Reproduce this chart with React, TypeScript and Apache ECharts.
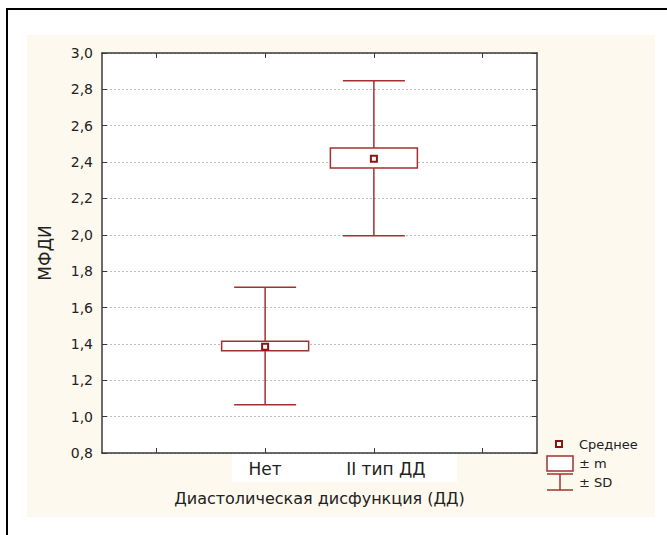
import React, { useEffect, useRef } from "react";
import * as echarts from "echarts";

const categories = ["Нет", "II тип ДД"];
const means = [1.385, 2.418];
const seLower = [1.362, 2.368];
const seUpper = [1.415, 2.478];
const sdLower = [1.065, 1.995];
const sdUpper = [1.712, 2.848];
const yTicks = ["0,8", "1,0", "1,2", "1,4", "1,6", "1,8", "2,0", "2,2", "2,4", "2,6", "2,8", "3,0"];

const FONT = "'DejaVu Sans', Verdana, sans-serif";
const RED = "#a3302f";
const DARKRED = "#8b1414";

export default function App() {
  const ref = useRef<HTMLDivElement>(null);
  useEffect(() => {
    if (!ref.current) return;
    const chart = echarts.init(ref.current, undefined, { renderer: "svg" });
    const axisCats: any[] = [
      "",
      { value: categories[0], textStyle: { padding: [0, 0, 0, 0] } },
      { value: categories[1], textStyle: { padding: [0, 0, 0, 24] } },
      "",
    ];
    const data = categories.map((c, i) => [i + 1, means[i], seLower[i], seUpper[i], sdLower[i], sdUpper[i]]);
    const axisLine = { show: true, lineStyle: { color: "#3a3a3a", width: 1.5 } };
    const tick = { show: true, inside: true, length: 5, lineStyle: { color: "#3a3a3a", width: 1 } };
    const option: any = {
      animation: false,
      textStyle: { fontFamily: FONT },
      grid: { left: 102, top: 53, right: 130, bottom: 82, show: true, backgroundColor: "#ffffff", borderWidth: 0 },
      xAxis: [
        {
          type: "category",
          data: axisCats,
          position: "bottom",
          boundaryGap: true,
          axisLine,
          axisTick: { ...tick, alignWithLabel: true, interval: 0 },
          axisLabel: { show: true, interval: 0, color: "#222", fontSize: 17, fontFamily: FONT, margin: 7 },
          splitLine: { show: false },
          name: "Диастолическая дисфункция (ДД)",
          nameLocation: "middle",
          nameGap: 37,
          nameTextStyle: { color: "#222", fontSize: 16, fontFamily: FONT },
        },
        {
          type: "category",
          data: axisCats,
          position: "top",
          boundaryGap: true,
          axisLine,
          axisTick: { ...tick, alignWithLabel: true, interval: 0 },
          axisLabel: { show: false },
          splitLine: { show: false },
        },
      ],
      yAxis: [
        {
          type: "value",
          min: 0.8,
          max: 3.0,
          interval: 0.2,
          position: "left",
          axisLine,
          axisTick: tick,
          axisLabel: {
            color: "#222",
            fontSize: 14,
            fontFamily: FONT,
            margin: 9,
            formatter: (v: number) => yTicks[Math.round((v - 0.8) / 0.2)] ?? "",
          },
          splitLine: { show: true, lineStyle: { color: "#bcbcbc", type: [2, 2], width: 1 } },
          name: "МФДИ",
          nameLocation: "middle",
          nameGap: 49,
          nameRotate: 90,
          nameTextStyle: { color: "#222", fontSize: 17, fontFamily: FONT },
        },
        {
          type: "value",
          min: 0.8,
          max: 3.0,
          interval: 0.2,
          position: "right",
          axisLine,
          axisTick: tick,
          axisLabel: { show: false },
          splitLine: { show: false },
        },
      ],
      series: [
        {
          type: "custom",
          xAxisIndex: 0,
          yAxisIndex: 0,
          data,
          encode: { x: 0, y: [1, 2, 3, 4, 5] },
          renderItem: (params: any, api: any) => {
            const xi = api.value(0);
            const m = api.value(1);
            const sl = api.value(2);
            const sh = api.value(3);
            const dl = api.value(4);
            const dh = api.value(5);
            const band = api.size([1, 0])[0];
            const xc = api.coord([xi, m])[0];
            const ym = api.coord([xi, m])[1];
            const ysl = api.coord([xi, sl])[1];
            const ysh = api.coord([xi, sh])[1];
            const ydl = api.coord([xi, dl])[1];
            const ydh = api.coord([xi, dh])[1];
            const bw = band * 0.8;
            const cw = band * 0.57;
            const ls = { stroke: RED, lineWidth: 1.5, fill: null };
            return {
              type: "group",
              children: [
                { type: "line", shape: { x1: xc, y1: ydh, x2: xc, y2: ysh }, style: ls },
                { type: "line", shape: { x1: xc, y1: ysl, x2: xc, y2: ydl }, style: ls },
                { type: "line", shape: { x1: xc - cw / 2, y1: ydh, x2: xc + cw / 2, y2: ydh }, style: ls },
                { type: "line", shape: { x1: xc - cw / 2, y1: ydl, x2: xc + cw / 2, y2: ydl }, style: ls },
                {
                  type: "rect",
                  shape: { x: xc - bw / 2, y: ysh, width: bw, height: ysl - ysh },
                  style: { stroke: RED, lineWidth: 1.5, fill: "#ffffff" },
                },
                {
                  type: "rect",
                  shape: { x: xc - 3, y: ym - 3, width: 6, height: 6 },
                  style: { stroke: DARKRED, lineWidth: 2, fill: "#ffffff" },
                },
              ],
            };
          },
        },
      ],
      graphic: [
        {
          type: "rect",
          z: -10,
          shape: { x: 27, y: 35, width: 628, height: 482 },
          style: { fill: "#fdf9ee", stroke: null },
        },
        {
          type: "rect",
          z: -9,
          shape: { x: 232, y: 454, width: 225, height: 28 },
          style: { fill: "#ffffff", stroke: null },
        },
        {
          type: "rect",
          z: 20,
          shape: { x: 7, y: 9, width: 700, height: 600 },
          style: { fill: null, stroke: "#000000", lineWidth: 2 },
        },
        {
          type: "group",
          z: 20,
          children: [
            {
              type: "rect",
              shape: { x: 556, y: 441, width: 6, height: 6 },
              style: { fill: "#ffffff", stroke: DARKRED, lineWidth: 2 },
            },
            {
              type: "text",
              style: { x: 579, y: 444, text: "Среднее", fill: "#222", font: `13px ${FONT}`, verticalAlign: "middle" },
            },
            {
              type: "rect",
              shape: { x: 547, y: 456, width: 26, height: 15 },
              style: { fill: "#ffffff", stroke: RED, lineWidth: 1.5 },
            },
            {
              type: "text",
              style: { x: 579, y: 463, text: "± m", fill: "#222", font: `13px ${FONT}`, verticalAlign: "middle" },
            },
            { type: "line", shape: { x1: 547, y1: 474, x2: 573, y2: 474 }, style: { stroke: RED, lineWidth: 1.5 } },
            { type: "line", shape: { x1: 560, y1: 474, x2: 560, y2: 490 }, style: { stroke: RED, lineWidth: 1.5 } },
            { type: "line", shape: { x1: 547, y1: 490, x2: 573, y2: 490 }, style: { stroke: RED, lineWidth: 1.5 } },
            {
              type: "text",
              style: { x: 579, y: 482, text: "± SD", fill: "#222", font: `13px ${FONT}`, verticalAlign: "middle" },
            },
          ],
        },
      ],
    };
    chart.setOption(option);
    return () => chart.dispose();
  }, []);
  return (
    <div
      ref={ref}
      style={{ position: "fixed", left: 0, top: 0, width: 667, height: 535, background: "#ffffff" }}
    />
  );
}
